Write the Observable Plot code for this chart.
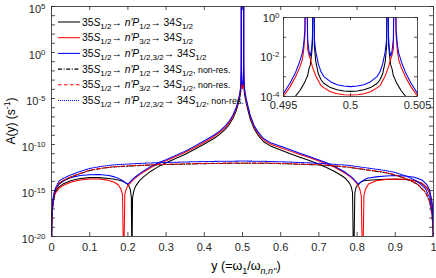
<!DOCTYPE html>
<html><head><meta charset="utf-8">
<script src="https://cdn.jsdelivr.net/npm/d3@7"></script>
<script src="https://cdn.jsdelivr.net/npm/@observablehq/plot@0.6"></script>
<style>
body{margin:0;background:#fff;}
#fig{position:relative;width:436px;height:278px;overflow:hidden;}
#fig svg{position:absolute;overflow:visible;}
</style></head><body><div id="fig"></div>
<script>
// ---------- DATA (log10 of A(y) in s^-1) ----------
const xSolid = [0,0.0005,0.001,0.002,0.004,0.007,0.01,0.02,0.03,0.05,
0.075,0.1,0.125,0.15,0.165,0.175,0.182,0.186,0.1888,0.192,
0.196,0.199,0.202,0.206,0.209,0.2106,0.212,0.215,0.22,0.23,
0.24,0.26,0.28,0.3,0.325,0.35,0.375,0.4,0.425,0.44,
0.455,0.465,0.475,0.482,0.487,0.49,0.4925,0.494,
0.495,0.4955,0.4959,0.4962,0.4964,0.4965,0.4966,0.49668,0.4968,0.4969,0.497,0.4971,0.49716,0.49724,0.4973,0.4974,0.4976,0.4978,0.498,0.4985,0.499,0.4995,0.5,
0.5005,0.501,0.5015,0.502,0.5022,0.5024,0.5026,0.5027,0.50276,0.50284,0.5029,0.503,0.5031,0.5032,0.50332,0.5034,0.5035,0.5036,0.5038,0.5041,0.5045,0.505,
0.506,0.508,0.51,0.515,0.52,0.53,0.54,0.555,0.575,0.6,
0.625,0.65,0.675,0.7,0.72,0.74,0.76,0.77,0.78,0.785,
0.788,0.791,0.794,0.797,0.801,0.805,0.808,0.811,0.8145,0.818,
0.822,0.83,0.85,0.875,0.9,0.925,0.95,0.97,0.983,0.99,
0.996,0.999,0.9995,1];

const logP12 = [-24,-18.9,-18.0,-17.1,-16.2,-15.5,-15.1,-14.6,-14.3,-13.95,
-13.7,-13.6,-13.6,-13.7,-13.78,-13.86,-13.95,-14.0,-14.05,-14.12,
-14.22,-14.33,-14.45,-14.85,-15.7,-24,-15.9,-15.1,-14.55,-13.95,
-13.55,-12.9,-12.4,-11.98,-11.52,-11.05,-10.52,-9.95,-9.35,-8.9,
-8.35,-7.85,-7.15,-6.5,-5.85,-5.4,-4.95,-4.65,
-4.45,-4.2,-3.98,-3.72,-3.5,-3.38,-3.25,-3.12,-2.95,-2.6,-2.4,-1.85,-1.3,6,-1.4,-2.2,-2.85,-3.15,-3.33,-3.55,-3.66,-3.72,-3.74,
-3.72,-3.66,-3.55,-3.33,-3.15,-2.85,-2.2,-1.4,6,-1.3,-1.85,-2.4,-2.6,-2.95,-3.12,-3.25,-3.38,-3.5,-3.72,-3.98,-4.2,-4.45,
-4.7,-5.15,-5.55,-6.4,-7.2,-8.25,-8.95,-9.7,-10.2,-10.6,
-11.0,-11.38,-11.75,-12.15,-12.5,-12.9,-13.4,-13.7,-14.2,-14.65,
-15.2,-24,-15.3,-14.7,-14.4,-14.3,-14.15,-14.05,-14.0,-13.95,
-13.92,-13.88,-13.83,-13.78,-13.77,-13.8,-13.95,-14.25,-14.75,-15.3,
-16.5,-18.3,-19.2,-24];

const logP32 = [-24,-19.1,-18.2,-17.3,-16.4,-15.7,-15.3,-14.75,-14.45,-14.1,
-13.85,-13.75,-13.75,-13.9,-14.1,-14.4,-14.85,-15.5,-24,-15.4,
-14.8,-14.55,-14.38,-14.2,-14.05,-13.98,-13.92,-13.8,-13.62,-13.3,
-13.02,-12.5,-12.1,-11.78,-11.3,-10.85,-10.32,-9.75,-9.15,-8.7,
-8.15,-7.65,-6.95,-6.3,-5.65,-5.15,-4.65,-4.25,
-3.98,-3.5,-3.0,-2.55,-2.15,-1.7,-0.9,6,-1.6,-1.9,-2.1,-2.35,-2.5,-2.65,-2.75,-2.95,-3.2,-3.45,-3.55,-3.76,-3.86,-3.91,-3.92,
-3.91,-3.86,-3.76,-3.55,-3.45,-3.2,-2.95,-2.75,-2.65,-2.5,-2.35,-2.1,-1.9,-1.6,6,-0.9,-1.7,-2.15,-2.55,-3.0,-3.5,-3.98,
-4.3,-4.8,-5.25,-6.1,-6.95,-8.05,-8.75,-9.5,-10.0,-10.35,
-10.72,-11.08,-11.42,-11.8,-12.1,-12.45,-12.9,-13.15,-13.45,-13.62,
-13.72,-13.85,-13.98,-14.12,-14.35,-14.65,-15.0,-15.6,-24,-15.5,
-14.85,-14.3,-13.95,-13.8,-13.75,-13.78,-13.92,-14.2,-14.7,-15.25,
-16.5,-18.3,-19.2,-24];

const logPboth = [-24,-18.6,-17.7,-16.8,-15.9,-15.2,-14.85,-14.3,-14.0,-13.6,
-13.38,-13.28,-13.26,-13.38,-13.52,-13.68,-13.82,-13.92,-14.0,-14.1,
-14.22,-14.28,-14.22,-14.05,-13.92,-13.85,-13.8,-13.68,-13.5,-13.2,
-12.9,-12.38,-11.98,-11.65,-11.18,-10.72,-10.18,-9.6,-9.0,-8.55,
-7.98,-7.48,-6.8,-6.15,-5.5,-5.0,-4.5,-4.1,
-3.85,-3.3,-2.78,-2.25,-1.8,-1.4,-0.6,6,-1.1,-1.7,-1.95,-1.6,-1.0,6,-1.05,-1.7,-2.35,-2.75,-2.98,-3.25,-3.4,-3.47,-3.5,
-3.47,-3.4,-3.25,-2.98,-2.75,-2.35,-1.7,-1.05,6,-1.0,-1.6,-1.95,-1.7,-1.1,6,-0.6,-1.4,-1.8,-2.25,-2.78,-3.3,-3.85,
-4.15,-4.65,-5.1,-5.95,-6.8,-7.9,-8.6,-9.35,-9.85,-10.2,
-10.58,-10.95,-11.3,-11.68,-11.98,-12.35,-12.8,-13.05,-13.35,-13.52,
-13.62,-13.75,-13.9,-14.05,-14.2,-14.27,-14.15,-14.05,-13.95,-13.85,
-13.75,-13.65,-13.52,-13.42,-13.38,-13.42,-13.55,-13.85,-14.4,-14.95,
-16.2,-18.0,-18.9,-24];

const xNonRes = [0,0.0005,0.001,0.002,0.004,0.007,0.01,0.015,0.02,0.03,
0.045,0.07,0.1,0.13,0.16,0.2,0.25,0.3,0.4,0.5,
0.55,0.618,0.705,0.775,0.835,0.87,0.896,0.93,0.957,0.979,
0.99,0.996,0.999,1];
const logP12NonRes = [-24,-18.85,-18.05,-17.25,-16.45,-15.65,-15.1,-14.65,-14.25,-13.95,
-13.65,-13.23,-12.83,-12.6,-12.45,-12.35,-12.25,-12.18,-12.08,-12.03,
-12.03,-12.1,-12.23,-12.46,-12.83,-13.03,-13.28,-13.75,-14.3,-15.2,
-16.25,-17.65,-19.35,-24];
const logP32NonRes = [-24,-18.8,-18.0,-17.2,-16.4,-15.6,-15.05,-14.6,-14.2,-13.92,
-13.62,-13.2,-12.8,-12.58,-12.42,-12.32,-12.22,-12.15,-12.05,-12.0,
-12.0,-12.08,-12.2,-12.43,-12.8,-13.0,-13.25,-13.72,-14.27,-15.15,
-16.2,-17.6,-19.3,-24];
const logPbothNonRes = [-24,-18.5,-17.7,-16.9,-16.1,-15.3,-14.8,-14.35,-13.95,-13.7,
-13.4,-13.0,-12.6,-12.38,-12.22,-12.12,-12.02,-11.95,-11.85,-11.8,
-11.82,-11.9,-12.05,-12.25,-12.6,-12.8,-13.0,-13.45,-13.98,-14.8,
-15.8,-17.2,-18.9,-24];

const legendMid = ["1/2","3/2","1/2,3/2","1/2","3/2","1/2,3/2"];
const legendNonRes = [false,false,false,true,true,true];
const xTicks = [0,0.1,0.2,0.3,0.4,0.5,0.6,0.7,0.8,0.9,1];
const yLabelTicks = [1e-20,1e-15,1e-10,1e-5,1,1e5];
const insetXTicks = [0.495,0.5,0.505];
const insetYLabelTicks = [1e-4,1e-2,1];

// ---------- STYLE ----------
const FONT = '"Liberation Sans", Arial, Helvetica, sans-serif';
const AX = "#262626";
const series = [
  {xs: xSolid, logs: logP12, color: "#000000", dash: null},
  {xs: xSolid, logs: logP32, color: "#ff0000", dash: null},
  {xs: xSolid, logs: logPboth, color: "#0000ff", dash: null},
  {xs: xNonRes, logs: logP12NonRes, color: "#000000", dash: "4,1.6,1,1.6"},
  {xs: xNonRes, logs: logP32NonRes, color: "#ff0000", dash: "3.5,2.5"},
  {xs: xNonRes, logs: logPbothNonRes, color: "#0000ff", dash: "1,1"}
];
const rowsOf = (xs, logs) => xs.map((x, i) => ({x, A: Math.pow(10, logs[i])}));
const lineMark = (s) => Plot.line(rowsOf(s.xs, s.logs), {
  x: "x", y: "A", stroke: s.color, strokeWidth: 1.05,
  strokeDasharray: s.dash || undefined, clip: true
});
const decades = (a, b) => d3.range(a, b + 1).map(k => Math.pow(10, k));

const W = 436, H = 278, mT = 6, mB = 42, mL = 51, mR = 3;
const iw = W - mL - mR, ih = H - mT - mB;

const main = Plot.plot({
  width: W, height: H, marginTop: mT, marginBottom: mB, marginLeft: mL, marginRight: mR,
  style: {fontFamily: FONT, fontSize: "11px", background: "white", color: AX},
  x: {domain: [0, 1]},
  y: {type: "log", domain: [1e-20, 1e5]},
  marks: [
    ...series.map(lineMark),
    Plot.tickX(xTicks, {x: d => d, insetTop: ih - 4, stroke: AX, strokeWidth: 0.8}),
    Plot.tickX(xTicks, {x: d => d, insetBottom: ih - 4, stroke: AX, strokeWidth: 0.8}),
    Plot.tickY(decades(-20, 5), {y: d => d, insetRight: iw - 4, stroke: AX, strokeWidth: 0.8}),
    Plot.tickY(decades(-20, 5), {y: d => d, insetLeft: iw - 4, stroke: AX, strokeWidth: 0.8}),
    Plot.axisX({ticks: xTicks, tickSize: 0, tickPadding: 7, tickFormat: d => String(d), label: null}),
    Plot.axisY({ticks: yLabelTicks, tickSize: 0, tickPadding: 6, dy: 2.5,
      tickFormat: d => "10^" + Math.round(Math.log10(d)), label: null}),
    Plot.frame({stroke: AX, strokeWidth: 0.8})
  ]
});
main.style.left = "0px"; main.style.top = "0px";

const insetPos = {left: 250, top: 8, width: 186, height: 112, mL: 33, mT: 9, mR: 19, mB: 24};
const inW = insetPos.width - insetPos.mL - insetPos.mR;
const inH = insetPos.height - insetPos.mT - insetPos.mB;
const inset = Plot.plot({
  width: insetPos.width, height: insetPos.height,
  marginLeft: insetPos.mL, marginTop: insetPos.mT, marginRight: insetPos.mR, marginBottom: insetPos.mB,
  style: {fontFamily: FONT, fontSize: "11px", background: "transparent", color: AX},
  x: {domain: [0.495, 0.505]},
  y: {type: "log", domain: [1e-4, 1]},
  marks: [
    Plot.frame({fill: "white", stroke: "none"}),
    ...series.slice(0, 3).map(lineMark),
    Plot.tickX(insetXTicks, {x: d => d, insetTop: inH - 3, stroke: AX, strokeWidth: 0.8}),
    Plot.tickX(insetXTicks, {x: d => d, insetBottom: inH - 3, stroke: AX, strokeWidth: 0.8}),
    Plot.tickY(decades(-4, 0), {y: d => d, insetRight: inW - 3, stroke: AX, strokeWidth: 0.8}),
    Plot.tickY(decades(-4, 0), {y: d => d, insetLeft: inW - 3, stroke: AX, strokeWidth: 0.8}),
    Plot.axisX({ticks: insetXTicks, tickSize: 0, tickPadding: 5, tickFormat: d => String(d), label: null}),
    Plot.axisY({ticks: insetYLabelTicks, tickSize: 0, tickPadding: 4, dy: 0.5,
      tickFormat: d => "10^" + Math.round(Math.log10(d)), label: null}),
    Plot.frame({stroke: AX, strokeWidth: 0.8})
  ]
});
inset.style.left = insetPos.left + "px"; inset.style.top = insetPos.top + "px";

const fig = document.getElementById("fig");
fig.appendChild(main);
fig.appendChild(inset);

// superscripts in tick labels
function supify(svg) {
  d3.select(svg).selectAll("text").each(function () {
    const m = /^10\^(-?\d+)$/.exec(this.textContent);
    if (!m) return;
    this.textContent = "";
    const t = d3.select(this);
    t.append("tspan").text("10");
    t.append("tspan").attr("dy", "-0.45em").attr("font-size", "0.72em").text(m[1]);
  });
}
supify(main); supify(inset);

// rich text helper: parts [text, mode] mode: n normal, i italic, b subscript, B italic subscript, p superscript, s small
function rich(textSel, parts, scale = 0.72) {
  let shift = 0;
  parts.forEach(([s, mode]) => {
    const ts = textSel.append("tspan").text(s);
    let target = 0;
    const small = (mode === "b" || mode === "B" || mode === "p");
    if (mode === "b" || mode === "B") target = 0.3;
    if (mode === "p") target = -0.45;
    if (small) ts.attr("font-size", scale + "em");
    if (mode === "s") ts.attr("font-size", "0.86em");
    if (mode === "i" || mode === "B") ts.attr("font-style", "italic");
    const fs = small ? scale : (mode === "s" ? 0.86 : 1);
    const d = target - shift;
    if (d !== 0) ts.attr("dy", (d / fs).toFixed(3) + "em");
    shift = target;
  });
}

const svgM = d3.select(main);
const legendG = svgM.append("g").attr("font-family", FONT).attr("font-size", 10.3)
  .attr("fill", "#000").attr("text-anchor", "start");
series.forEach((s, i) => {
  const yy = 22 + i * 15.7;
  legendG.append("line").attr("x1", 58).attr("x2", 80).attr("y1", yy).attr("y2", yy)
    .attr("stroke", s.color).attr("stroke-width", 1.05)
    .attr("stroke-dasharray", s.dash || null);
  const t = legendG.append("text").attr("text-anchor", "start").attr("x", 82).attr("y", yy + 3.5);
  const parts = [["35","n"],["S","i"],["1/2","b"],["\u2192 ","n"],["n'P","i"],[legendMid[i],"b"],["\u2192 34","n"],["S","i"],["1/2","b"]];
  if (legendNonRes[i]) parts.push([", non-res.","s"]);
  rich(t, parts, 0.78);
});

// axis titles
const yt = svgM.append("text").attr("font-family", FONT).attr("font-size", 12).attr("fill", "#000")
  .attr("text-anchor", "middle").attr("transform", "translate(15,121) rotate(-90)");
rich(yt, [["A(y) (s","n"],["-1","p"],[")","n"]]);
const xt = svgM.append("text").attr("font-family", FONT).attr("font-size", 12.5).attr("fill", "#000")
  .attr("text-anchor", "middle").attr("x", 246).attr("y", 270);
rich(xt, [["y (=\u03c9","n"],["1","b"],["/\u03c9","n"],["n,n''","B"],[")","n"]]);
</script>
</body></html>
